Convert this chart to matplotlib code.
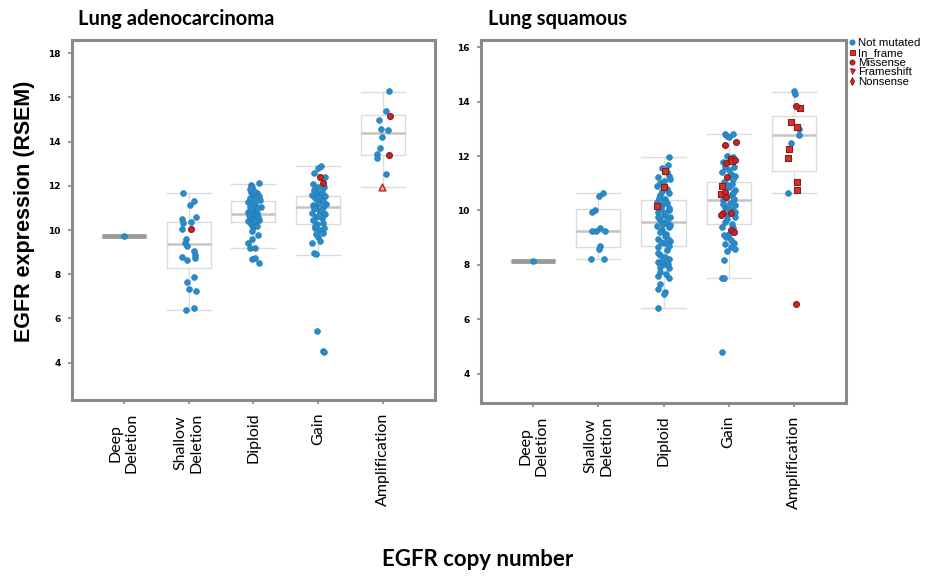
import matplotlib.pyplot as plt
from matplotlib.lines import Line2D

# categories on the x axis
categories = ['Deep\nDeletion', 'Shallow\nDeletion', 'Diploid', 'Gain', 'Amplification']

# mutation classes: N = not mutated, I = in_frame, M = missense, F = frameshift, X = nonsense
mut_names = {'N': 'Not mutated', 'I': 'In_frame', 'M': 'Missense', 'F': 'Frameshift', 'X': 'Nonsense'}

# box stats: (whisker low, q1, median, q3, whisker high)
adeno_boxes = [(9.75, 9.75, 9.75, 9.75, 9.75),
               (6.38, 8.28, 9.35, 10.35, 11.66),
               (9.17, 10.35, 10.72, 11.33, 12.10),
               (8.87, 10.27, 11.06, 11.55, 12.91),
               (11.95, 13.38, 14.37, 15.19, 16.26)]
squam_boxes = [(8.15, 8.15, 8.15, 8.15, 8.15),
               (8.20, 8.64, 9.26, 10.04, 10.65),
               (6.43, 8.71, 9.57, 10.38, 11.95),
               (7.52, 9.50, 10.37, 11.06, 12.81),
               (10.66, 11.47, 12.79, 13.48, 14.36)]

# points: (x offset from category, RSEM expression, mutation class)
adeno_deep = [(0.0, 9.75, 'N')]
adeno_shallow = [(-0.09, 11.66, 'N'), (0.08, 11.31, 'N'), (0.02, 11.13, 'N'), (-0.10, 10.51, 'N'),
                 (0.11, 10.59, 'N'), (-0.08, 10.30, 'N'), (0.03, 10.35, 'N'), (-0.10, 10.05, 'N'),
                 (0.03, 10.05, 'M'), (-0.04, 9.58, 'N'), (-0.05, 9.40, 'N'), (-0.03, 9.28, 'N'),
                 (0.08, 9.05, 'N'), (0.10, 8.87, 'N'), (0.10, 8.72, 'N'), (-0.10, 8.78, 'N'),
                 (-0.03, 8.64, 'N'), (0.08, 7.89, 'N'), (-0.03, 7.65, 'N'), (0.0, 7.32, 'N'),
                 (0.11, 7.22, 'N'), (-0.04, 6.38, 'N'), (0.08, 6.47, 'N')]
adeno_diploid = [(0.08, 12.11, 'N'), (-0.04, 12.03, 'N'), (-0.03, 11.93, 'N'), (-0.04, 11.73, 'N'),
                 (0.05, 11.66, 'N'), (0.0, 11.58, 'N'), (0.08, 11.54, 'N'), (0.04, 11.43, 'N'),
                 (0.10, 11.36, 'N'), (-0.08, 11.28, 'N'), (-0.03, 11.21, 'N'), (0.03, 11.16, 'N'),
                 (0.12, 11.03, 'N'), (-0.05, 11.06, 'N'), (0.0, 10.90, 'N'), (-0.09, 10.83, 'N'),
                 (0.05, 10.78, 'N'), (-0.03, 10.71, 'N'), (0.03, 10.65, 'N'), (-0.06, 10.56, 'N'),
                 (0.09, 10.45, 'N'), (-0.01, 10.50, 'N'), (-0.09, 10.42, 'N'), (0.04, 10.33, 'N'),
                 (-0.04, 10.27, 'N'), (0.0, 10.12, 'N'), (0.07, 9.79, 'N'), (-0.03, 9.58, 'N'),
                 (-0.09, 9.43, 'N'), (-0.05, 9.17, 'N'), (0.03, 9.17, 'N'), (-0.03, 8.67, 'N'),
                 (0.03, 8.72, 'N'), (0.09, 8.52, 'N'), (-0.06, 11.45, 'N'), (0.06, 11.00, 'N'),
                 (-0.02, 10.95, 'N'), (0.07, 10.60, 'N'), (-0.07, 10.70, 'N'), (0.02, 10.40, 'N'),
                 (-0.05, 11.85, 'N'), (0.01, 11.75, 'N'), (0.06, 10.20, 'N'), (-0.02, 9.95, 'N')]
adeno_gain = [(0.04, 12.91, 'N'), (0.0, 12.79, 'N'), (-0.07, 12.59, 'N'), (0.02, 12.38, 'M'),
              (0.10, 12.41, 'N'), (0.07, 12.11, 'M'), (-0.08, 12.08, 'N'), (-0.01, 11.96, 'N'),
              (0.09, 11.93, 'N'), (-0.03, 11.73, 'N'), (-0.09, 11.58, 'N'), (0.03, 11.58, 'N'),
              (0.10, 11.55, 'N'), (-0.05, 11.43, 'N'), (0.05, 11.36, 'N'), (0.0, 11.24, 'N'),
              (0.12, 11.18, 'N'), (-0.08, 11.13, 'N'), (0.08, 11.06, 'N'), (-0.03, 10.98, 'N'),
              (0.03, 10.83, 'N'), (-0.10, 10.75, 'N'), (0.11, 10.71, 'N'), (-0.04, 10.60, 'N'),
              (0.05, 10.53, 'N'), (-0.08, 10.45, 'N'), (0.08, 10.33, 'N'), (-0.02, 10.26, 'N'),
              (-0.05, 10.08, 'N'), (0.03, 10.00, 'N'), (0.07, 9.85, 'N'), (-0.01, 9.67, 'N'),
              (0.02, 9.52, 'N'), (-0.09, 9.40, 'N'), (-0.07, 8.97, 'N'), (-0.04, 8.91, 'N'),
              (-0.02, 5.43, 'N'), (0.07, 4.52, 'N'), (0.09, 4.49, 'N'), (-0.06, 11.80, 'N'),
              (0.05, 11.70, 'N'), (-0.01, 11.45, 'N'), (0.08, 11.30, 'N'), (-0.07, 11.00, 'N'),
              (0.01, 10.70, 'N'), (0.06, 10.90, 'N'), (-0.05, 10.20, 'N'), (0.09, 10.10, 'N'),
              (-0.03, 9.80, 'N')]
adeno_amp = [(0.09, 16.27, 'N'), (0.05, 15.38, 'N'), (0.10, 15.17, 'M'), (-0.06, 14.96, 'N'),
             (-0.03, 14.57, 'N'), (0.07, 14.54, 'N'), (-0.01, 14.19, 'N'), (-0.04, 13.70, 'N'),
             (-0.09, 13.44, 'N'), (-0.10, 13.27, 'N'), (0.09, 13.39, 'M'), (0.05, 12.53, 'N'),
             (-0.01, 11.93, 'F')]

squam_deep = [(0.0, 8.15, 'N')]
squam_shallow = [(0.07, 10.63, 'N'), (0.01, 10.55, 'N'), (-0.05, 10.01, 'N'), (-0.09, 9.95, 'N'),
                 (0.02, 9.37, 'N'), (-0.10, 9.24, 'N'), (-0.03, 9.24, 'N'), (0.10, 9.26, 'N'),
                 (0.02, 8.69, 'N'), (0.01, 8.59, 'N'), (-0.11, 8.20, 'N'), (0.09, 8.20, 'N')]
squam_diploid = [(0.09, 11.96, 'N'), (0.07, 11.67, 'N'), (-0.08, 11.24, 'N'), (0.08, 11.28, 'N'),
                 (0.10, 11.15, 'N'), (-0.10, 10.90, 'N'), (-0.05, 11.00, 'N'), (0.09, 10.63, 'N'),
                 (-0.06, 10.56, 'N'), (0.03, 10.44, 'N'), (-0.10, 10.32, 'N'), (0.05, 10.26, 'N'),
                 (-0.03, 10.20, 'N'), (0.08, 10.01, 'N'), (-0.08, 9.95, 'N'), (0.0, 9.83, 'N'),
                 (0.10, 9.77, 'N'), (-0.05, 9.64, 'N'), (0.03, 9.55, 'N'), (-0.10, 9.42, 'N'),
                 (0.08, 9.40, 'N'), (-0.03, 9.30, 'N'), (0.04, 9.15, 'N'), (-0.08, 8.97, 'N'),
                 (0.10, 8.88, 'N'), (0.0, 8.79, 'N'), (-0.09, 8.66, 'N'), (0.05, 8.54, 'N'),
                 (-0.05, 8.36, 'N'), (0.08, 8.23, 'N'), (-0.09, 8.11, 'N'), (0.03, 8.02, 'N'),
                 (-0.05, 7.93, 'N'), (0.08, 7.87, 'N'), (-0.09, 7.58, 'N'), (0.08, 7.53, 'N'),
                 (-0.05, 7.31, 'N'), (-0.08, 7.13, 'N'), (0.03, 7.01, 'N'), (0.0, 6.94, 'N'),
                 (-0.08, 6.43, 'N'), (-0.02, 10.70, 'N'), (0.05, 10.80, 'N'), (-0.07, 10.45, 'N'),
                 (0.0, 10.35, 'N'), (0.09, 10.10, 'N'), (-0.04, 10.05, 'N'), (0.03, 9.90, 'N'),
                 (-0.09, 9.75, 'N'), (0.06, 9.65, 'N'), (-0.01, 9.50, 'N'), (0.10, 9.45, 'N'),
                 (-0.06, 9.20, 'N'), (0.02, 9.05, 'N'), (0.07, 8.95, 'N'), (-0.04, 8.85, 'N'),
                 (0.09, 8.70, 'N'), (-0.08, 8.45, 'N'), (0.03, 8.30, 'N'), (-0.02, 8.15, 'N'),
                 (0.07, 8.05, 'N'), (-0.05, 7.75, 'N'), (0.04, 7.65, 'N'), (0.0, 11.10, 'N'),
                 (0.06, 11.40, 'N'), (-0.03, 11.55, 'N'),
                 (0.02, 11.46, 'I'), (0.01, 10.87, 'I'), (-0.10, 10.18, 'I')]
squam_gain = [(-0.05, 12.83, 'N'), (-0.03, 12.74, 'N'), (0.0, 12.69, 'N'), (-0.02, 12.00, 'N'),
              (0.07, 11.98, 'N'), (-0.08, 11.79, 'N'), (0.08, 11.61, 'N'), (-0.10, 11.42, 'N'),
              (0.03, 11.36, 'N'), (0.10, 11.28, 'N'), (-0.07, 11.06, 'N'), (0.05, 10.99, 'N'),
              (0.0, 10.85, 'N'), (0.10, 10.77, 'N'), (0.03, 10.56, 'N'), (0.08, 10.44, 'N'),
              (-0.09, 10.38, 'N'), (0.02, 10.28, 'N'), (0.10, 10.20, 'N'), (-0.05, 10.13, 'N'),
              (0.05, 10.01, 'N'), (-0.03, 9.83, 'N'), (0.10, 9.77, 'N'), (-0.05, 9.58, 'N'),
              (0.05, 9.52, 'N'), (-0.10, 9.40, 'N'), (0.0, 9.15, 'N'), (-0.04, 9.03, 'N'),
              (0.08, 8.79, 'N'), (-0.05, 8.76, 'N'), (0.03, 8.66, 'N'), (0.10, 8.60, 'N'),
              (-0.07, 8.17, 'N'), (-0.10, 7.53, 'N'), (-0.07, 7.53, 'N'), (-0.10, 4.80, 'N'),
              (0.06, 12.80, 'N'), (-0.06, 11.60, 'N'), (0.01, 11.50, 'N'), (0.06, 11.15, 'N'),
              (-0.02, 10.95, 'N'), (0.07, 10.65, 'N'), (-0.08, 10.25, 'N'), (0.0, 10.05, 'N'),
              (0.09, 9.95, 'N'), (-0.02, 9.70, 'N'), (0.06, 9.35, 'N'), (-0.07, 9.10, 'N'),
              (0.04, 8.90, 'N'), (-0.03, 8.50, 'N'),
              (0.11, 12.53, 'M'), (-0.05, 12.40, 'M'), (0.03, 11.91, 'I'), (0.09, 11.85, 'M'),
              (0.05, 11.83, 'I'), (-0.04, 11.73, 'M'), (-0.03, 11.24, 'M'), (-0.10, 10.90, 'I'),
              (-0.05, 10.69, 'M'), (-0.12, 10.60, 'I'), (-0.04, 10.50, 'M'), (-0.08, 9.91, 'M'),
              (0.03, 9.91, 'M'), (-0.12, 9.83, 'M'), (0.03, 9.28, 'M'), (0.08, 9.21, 'M')]
squam_amp = [(0.0, 14.39, 'N'), (0.02, 14.27, 'N'), (0.04, 13.84, 'M'), (0.10, 13.78, 'I'),
             (-0.04, 13.24, 'I'), (0.05, 13.08, 'I'), (0.08, 12.98, 'N'), (0.08, 12.77, 'N'),
             (-0.05, 12.50, 'N'), (-0.08, 12.26, 'I'), (-0.09, 11.94, 'I'), (0.05, 11.03, 'I'),
             (0.05, 10.77, 'I'), (-0.09, 10.66, 'N'), (0.03, 6.55, 'M')]

adeno_groups = [adeno_deep, adeno_shallow, adeno_diploid, adeno_gain, adeno_amp]
squam_groups = [squam_deep, squam_shallow, squam_diploid, squam_gain, squam_amp]

BLUE = '#2a8bc9'
styles = {
    'N': dict(marker='o', s=18, facecolor=BLUE, edgecolor='#1f78b0', linewidth=0.4),
    'I': dict(marker='s', s=16, facecolor='#d8322a', edgecolor='#8e1a1a', linewidth=0.8),
    'M': dict(marker='o', s=18, facecolor='#c4262b', edgecolor='#8e1a1a', linewidth=0.8),
    'F': dict(marker='^', s=24, facecolor='#f0a49c', edgecolor='#b52328', linewidth=1.0),
    'X': dict(marker='d', s=18, facecolor='#c4262b', edgecolor='#8e1a1a', linewidth=0.8),
}

plt.rcParams['font.family'] = ['Lato', 'DejaVu Sans']

fig = plt.figure(figsize=(9.25, 5.77), dpi=100)
ax1 = fig.add_axes([0.0778, 0.3068, 0.3924, 0.6239])
ax2 = fig.add_axes([0.520, 0.3016, 0.3946, 0.6290])


def draw_panel(ax, groups, boxes, ylim, yticks):
    stats = [dict(whislo=b[0], q1=b[1], med=b[2], q3=b[3], whishi=b[4]) for b in boxes]
    res = ax.bxp(stats, positions=range(len(categories)), widths=0.68, capwidths=0.68,
                 showfliers=False,
                 boxprops=dict(color='#dcdcdc', linewidth=1.0),
                 whiskerprops=dict(color='#dcdcdc', linewidth=1.0),
                 capprops=dict(color='#dcdcdc', linewidth=1.0),
                 medianprops=dict(color='#c4c4c4', linewidth=1.8))
    # the deep deletion group is a single sample: a flat thick bar
    res['medians'][0].set_color('#9a9a9a')
    res['medians'][0].set_linewidth(3.5)

    for i, grp in enumerate(groups):
        for code in ['N', 'I', 'M', 'F', 'X']:
            pts = [(i + dx, y) for dx, y, m in grp if m == code]
            if not pts:
                continue
            xs, ys = zip(*pts)
            ax.scatter(xs, ys, zorder=3, **styles[code])

    ax.set_xlim(-0.8, 4.8)
    ax.set_ylim(*ylim)
    ax.set_yticks(yticks)
    ax.set_yticklabels([str(t) for t in yticks], fontsize=6.5, fontweight='bold',
                       family=['DejaVu Sans'])
    ax.set_xticks(range(len(categories)))
    ax.set_xticklabels(categories, rotation=90, fontsize=11.5, va='top', ha='center')
    ax.tick_params(axis='both', length=3, width=1.2, color='#8a8a8a', pad=5)
    ax.tick_params(axis='x', pad=6)
    for sp in ax.spines.values():
        sp.set_color('#8a8a8a')
        sp.set_linewidth(2.2)


draw_panel(ax1, adeno_groups, adeno_boxes, (2.31, 18.6), [4, 6, 8, 10, 12, 14, 16, 18])
draw_panel(ax2, squam_groups, squam_boxes, (2.92, 16.27), [4, 6, 8, 10, 12, 14, 16])

fig.text(78 / 925, 1 - 19 / 577, 'Lung adenocarcinoma', fontsize=14.5, fontweight='bold',
         va='center', ha='left')
fig.text(488 / 925, 1 - 19 / 577, 'Lung squamous', fontsize=14.5, fontweight='bold',
         va='center', ha='left')
fig.text(25 / 925, 1 - 211 / 577, 'EGFR expression (RSEM)', fontsize=15.5, fontweight='bold',
         rotation=90, va='center', ha='center', family=['Liberation Sans'])
fig.text(478 / 925, 1 - 559 / 577, 'EGFR copy number', fontsize=16, fontweight='bold',
         va='center', ha='center')

handles = []
for code in ['N', 'I', 'M', 'F', 'X']:
    st = styles[code]
    mk = 'v' if code == 'F' else st['marker']
    fc = '#c4262b' if code == 'F' else st['facecolor']
    handles.append(Line2D([], [], linestyle='none', marker=mk, markersize=3.6,
                          markerfacecolor=fc, markeredgecolor=st['edgecolor'],
                          markeredgewidth=0.7, label=mut_names[code]))
fig.legend(handles=handles, loc='upper left', bbox_to_anchor=(849 / 925, 1 - 38 / 577),
           frameon=False, handlelength=0.5, handletextpad=0.3,
           labelspacing=-0.02, borderpad=0, borderaxespad=0,
           prop=dict(family='Liberation Sans', size=8.2))

fig.savefig('out.png', dpi=100)
